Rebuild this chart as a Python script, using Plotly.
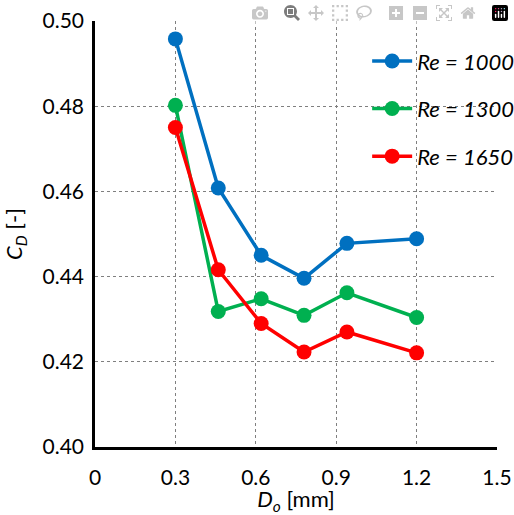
import plotly.graph_objects as go

x_do = [0.3, 0.46, 0.62, 0.78, 0.94, 1.2]
cd_re1000 = [0.4958, 0.4608, 0.4450, 0.4396, 0.4478, 0.4489]
cd_re1300 = [0.4802, 0.4318, 0.4348, 0.4309, 0.4362, 0.4304]
cd_re1650 = [0.4750, 0.4416, 0.4290, 0.4223, 0.4270, 0.4221]
series_names = ["Re = 1000", "Re = 1300", "Re = 1650"]
series_colors = ["#0070C0", "#00B050", "#FF0000"]
x_ticks = [0, 0.3, 0.6, 0.9, 1.2, 1.5]
x_ticklabels = ["0", "0.3", "0.6", "0.9", "1.2", "1.5"]
y_ticks = [0.40, 0.42, 0.44, 0.46, 0.48, 0.50]
y_ticklabels = ["0.40", "0.42", "0.44", "0.46", "0.48", "0.50"]

FONT = "Lato"
fig = go.Figure()
for i, (name, ys, col) in enumerate(zip(series_names, [cd_re1000, cd_re1300, cd_re1650], series_colors)):
    fig.add_trace(go.Scatter(
        x=x_do, y=ys, mode="lines+markers", name=name,
        legendgroup=f"g{i}",
        line=dict(color=col, width=3.5),
        marker=dict(color=col, size=15),
    ))

grid = dict(showgrid=True, gridcolor="#7f7f7f", griddash="dot", gridwidth=1,
            zeroline=False, showline=True, linecolor="black", linewidth=2.5,
            ticks="", ticklabeloverflow="allow",
            tickfont=dict(family=FONT, size=21, color="black"))

fig.update_layout(
    width=514, height=515,
    margin=dict(l=95, r=17, t=21, b=68, autoexpand=False),
    paper_bgcolor="white", plot_bgcolor="white",
    font=dict(family=FONT, color="black"),
    xaxis=dict(range=[0, 1.5], tickvals=x_ticks, ticktext=x_ticklabels,
               ticklabelstandoff=10, automargin=True,
               title=dict(text="<i>D<sub>o</sub></i> [mm]", font=dict(family=FONT, size=22), standoff=16),
               **grid),
    yaxis=dict(range=[0.40, 0.50], tickvals=y_ticks, ticktext=y_ticklabels,
               ticklabelstandoff=4, automargin=False,
               title=dict(text="<i>C<sub>D</sub></i> [-]", font=dict(family=FONT, size=22)),
               **grid),
    legend=dict(x=0.677, y=0.955, xanchor="left", yanchor="top",
                bgcolor="rgba(0,0,0,0)", tracegroupgap=16, borderwidth=0,
                font=dict(family=FONT, size=22, style="italic"),
                itemwidth=40),
    showlegend=True,
)
fig.write_html(
    "out.html",
    post_script="document.body.style.margin='0';document.documentElement.style.overflow='hidden';",
)
